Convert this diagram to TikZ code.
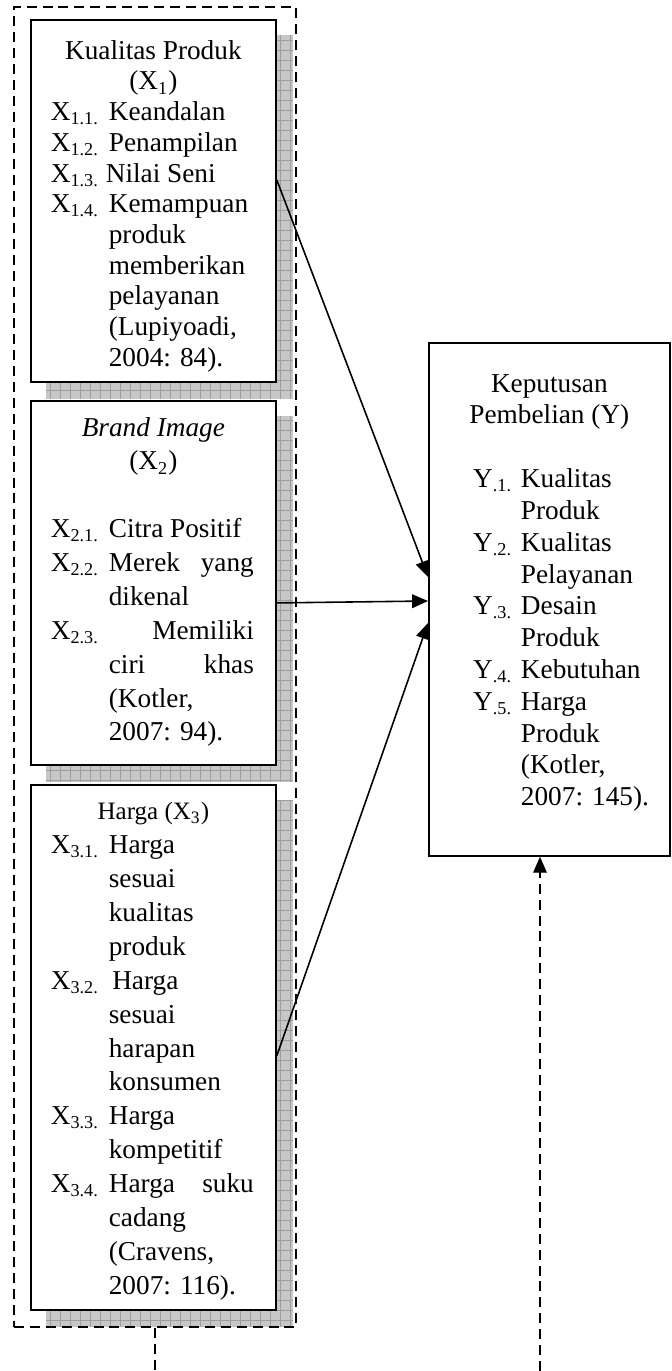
\documentclass[tikz,border=0pt]{standalone}
\usepackage{fontspec}
\setmainfont{Liberation Serif}
\usetikzlibrary{positioning,calc,fit,backgrounds,arrows.meta}

\newcommand{\xitem}[1]{\hspace*{8.8pt}\makebox[25.5pt][l]{#1}}
\newcommand{\yitem}[1]{\hspace*{19.5pt}\makebox[21pt][l]{#1}}

\begin{document}
\begin{tikzpicture}[x=0.44pt, y=-0.44pt]

    \tikzstyle{block} = [rectangle, draw, line width=0.8pt, fill=white, inner sep=0pt, font=\fontsize{12pt}{14.9pt}\selectfont]
    \tikzstyle{arrow} = [line width=0.7pt, ->, >={Triangle[length=7pt,width=6pt]}]
    \tikzstyle{dashedline} = [line width=0.6pt, dash pattern=on 4.4pt off 2.6pt]
    \tikzstyle{dasharrow} = [dashedline, ->, >={Triangle[length=7pt,width=6pt]}]
    \tikzstyle{groupframe} = [draw, dashedline, inner sep=0pt]
    \tikzstyle{shadowfill} = [fill=black!22]
    \tikzstyle{shadowgrid} = [draw=black!38, line width=0.25pt, step=4.4pt]

    \useasboundingbox (0,0) rectangle (671,1371);

    \node (quality) [block, anchor=north west, font=\fontsize{12pt}{13.5pt}\selectfont] at (30,19) {\parbox[c][159.3pt][t]{107.8pt}{\vspace*{9pt}
        {\centering Kualitas Produk\\ (X\textsubscript{1})\par}
        \xitem{X\textsubscript{1.1.}}Keandalan\\
        \xitem{X\textsubscript{1.2.}}Penampilan\\
        \hspace*{8.8pt}X\textsubscript{1.3.} Nilai Seni\\
        \xitem{X\textsubscript{1.4.}}Kemampuan\\
        \xitem{}produk\\
        \xitem{}memberikan\\
        \xitem{}pelayanan\\
        \xitem{}(Lupiyoadi,\\
        \xitem{}2004: 84).}};

    \node (brand) [block, below=7.5pt of quality] {\parbox[c][160.2pt][t]{107.8pt}{\vspace*{7.2pt}
        {\centering \textit{Brand Image}\\ (X\textsubscript{2})\par}
        \vspace{14.9pt}
        \xitem{X\textsubscript{2.1.}}Citra Positif\\
        \xitem{X\textsubscript{2.2.}}\makebox[63.8pt][s]{Merek yang}\\
        \xitem{}dikenal\\
        \xitem{X\textsubscript{2.3.}}\makebox[63.8pt][r]{Memiliki}\\
        \xitem{}\makebox[63.8pt][s]{ciri khas}\\
        \xitem{}(Kotler,\\
        \xitem{}2007: 94).}};

    \node (price) [block, below=7.9pt of brand] {\parbox[c][231pt][t]{107.8pt}{\vspace*{7.9pt}
        {\centering\fontsize{11pt}{14.9pt}\selectfont Harga (X\textsubscript{3})\par}
        \xitem{X\textsubscript{3.1.}}Harga\\
        \xitem{}sesuai\\
        \xitem{}kualitas\\
        \xitem{}produk\\
        \xitem{X\textsubscript{3.2.}}\hspace{1.5pt}Harga\\
        \xitem{}sesuai\\
        \xitem{}harapan\\
        \xitem{}konsumen\\
        \xitem{X\textsubscript{3.3.}}Harga\\
        \xitem{}kompetitif\\
        \xitem{X\textsubscript{3.4.}}\makebox[63.8pt][s]{Harga suku}\\
        \xitem{}cadang\\
        \xitem{}(Cravens,\\
        \xitem{}2007: 116).}};

    \node (decision) [block, anchor=north west, font=\fontsize{12pt}{14pt}\selectfont] at (428,342) {\parbox[c][225.7pt][t]{106pt}{\vspace*{13.8pt}
        {\centering Keputusan\\ Pembelian (Y)\par}
        \vspace{14pt}
        \yitem{Y\textsubscript{.1.}}Kualitas\\
        \yitem{}Produk\\
        \yitem{Y\textsubscript{.2.}}Kualitas\\
        \yitem{}Pelayanan\\
        \yitem{Y\textsubscript{.3.}}Desain\\
        \yitem{}Produk\\
        \yitem{Y\textsubscript{.4.}}Kebutuhan\\
        \yitem{Y\textsubscript{.5.}}Harga\\
        \yitem{}Produk\\
        \yitem{}(Kotler,\\
        \yitem{}2007: 145).}};

    \node (group) [groupframe, fit={(14,7) (296,1327)}] {};

    \begin{scope}[on background layer]
        \foreach \boxname in {quality,brand,price} {
            \begin{scope}
                \clip ($(\boxname.south west)+(16,16)$) rectangle ($(\boxname.north east)+(16,16)$);
                \fill [shadowfill] ($(\boxname.south west)+(16,16)$) rectangle ($(\boxname.north east)+(16,16)$);
                \draw [shadowgrid] ($(\boxname.south west)+(16,16)$) grid ($(\boxname.north east)+(16,16)$);
            \end{scope}
        }
    \end{scope}

    \coordinate (leftend) at (155,1371);
    \coordinate (rightend) at (540,1371);

    \draw [arrow] ($(quality.north east)+(0,161)$) -- ($(decision.north west)+(0,235)$);
    \draw [arrow] ($(brand.north east)+(0,203)$) -- ($(decision.north west)+(0,259)$);
    \draw [arrow] ($(price.north east)+(0,272)$) -- ($(decision.north west)+(0,281)$);
    \draw [dashedline] (group.south) -- (leftend);
    \draw [dasharrow] (rightend) -- (rightend |- decision.south);

\end{tikzpicture}
\end{document}
